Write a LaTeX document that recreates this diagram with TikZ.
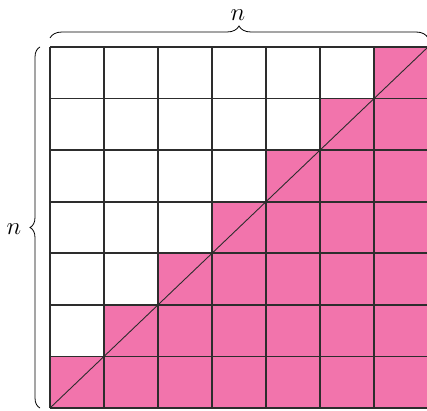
\documentclass[tikz,border=0pt]{standalone}
\usetikzlibrary{decorations.pathreplacing}
\definecolor{cellpink}{RGB}{242,116,172}
\definecolor{gridline}{RGB}{45,45,45}
\tikzset{
  gridlines/.style={draw=gridline, line width=1.7pt},
  diag/.style={draw=gridline, line width=0.9pt},
  bracestyle/.style={draw=black, line width=0.8pt, decorate, decoration={brace, amplitude=#1}},
  lbl/.style={font=\fontsize{26}{28}\selectfont, inner sep=0pt}
}
\begin{document}
\begin{tikzpicture}[x=1pt,y=1pt]
\useasboundingbox (0,0) rectangle (427,410);
\coordinate (bl) at (50,2);
\coordinate (tr) at (428,363);
% staircase of pink cells: row r (0 = top) filled from column 6-r to 6
\foreach \r in {0,...,6} {
  \fill[cellpink] ({50+54*(6-\r)},{363-361/7*(\r+1)}) rectangle (428,{363-361/7*\r});
}
\foreach \i in {0,...,7} {
  \draw[gridlines] ({50+54*\i},2) -- ({50+54*\i},363);
  \draw[gridlines] (50,{2+361/7*\i}) -- (428,{2+361/7*\i});
}
\draw[diag] (bl) -- (tr);
\coordinate (tbL) at (50,372);
\coordinate (tbR) at (428,372);
\draw[bracestyle=12pt] (tbL) -- (tbR);
\coordinate (lbB) at (40,2);
\coordinate (lbT) at (40,363);
\draw[bracestyle=10pt] (lbB) -- (lbT);
\node[lbl] (ntop) at (238,395) {$n$};
\node[lbl] (nleft) at (14,181) {$n$};
\end{tikzpicture}
\end{document}
